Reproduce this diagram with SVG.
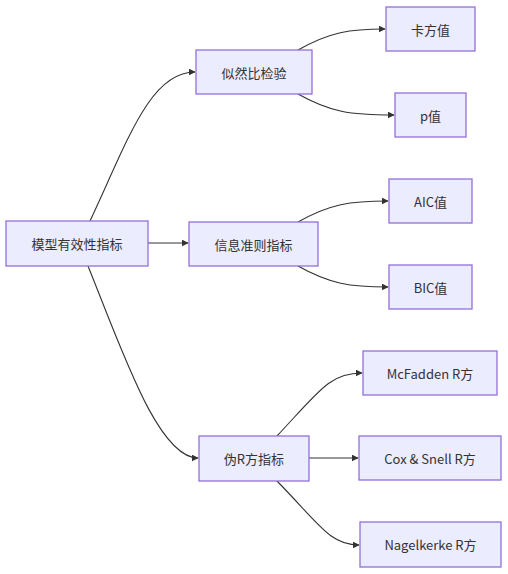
<svg xmlns="http://www.w3.org/2000/svg" width="508" height="574" viewBox="0 0 508 574">
<style>
.node rect{fill:#ECECFF;stroke:#9370DB;stroke-width:1.3}
.node text{font-family:"Noto Sans CJK SC","Liberation Sans",sans-serif;font-size:13px;fill:#333;text-anchor:middle;dominant-baseline:central}
.edges path{fill:none;stroke:#333;stroke-width:1.1;marker-end:url(#arrow)}
</style>
<defs>
<marker id="arrow" viewBox="0 0 10 10" refX="9" refY="5" markerWidth="7" markerHeight="7" orient="auto" markerUnits="userSpaceOnUse">
<path d="M0,0 L10,5 L0,10 z" fill="#333"/>
</marker>
</defs>
<rect width="508" height="574" fill="#fff"/>
<g class="edges">
<path d="M90,221 C128,140 150,72 195,72"/>
<path d="M148,243 L188,243"/>
<path d="M88,266 C122,350 158,458 198,458"/>
<path d="M298,50 C330,32 350,29 385,29"/>
<path d="M298,94 C330,112 350,115 394,115"/>
<path d="M298,222 C330,204 350,201 388,201"/>
<path d="M298,266 C330,284 350,287 388,287"/>
<path d="M277,436 C320,390 330,373 362,373"/>
<path d="M309,458 L358,458"/>
<path d="M277,481 C320,525 330,545 359,545"/>
</g>
<g id="root" class="node"><rect x="6" y="221" width="142" height="45"/><text x="77" y="243.5">模型有效性指标</text></g>
<g id="lr" class="node"><rect x="196" y="50" width="116" height="44"/><text x="254" y="72">似然比检验</text></g>
<g id="chi" class="node"><rect x="386" y="7" width="89" height="44"/><text x="430.5" y="29">卡方值</text></g>
<g id="p" class="node"><rect x="395" y="93" width="71" height="44"/><text x="430.5" y="115">p值</text></g>
<g id="ic" class="node"><rect x="189" y="222" width="129" height="44"/><text x="253.5" y="244">信息准则指标</text></g>
<g id="aic" class="node"><rect x="389" y="179" width="83" height="44"/><text x="430.5" y="201">AIC值</text></g>
<g id="bic" class="node"><rect x="389" y="265" width="83" height="44"/><text x="430.5" y="287">BIC值</text></g>
<g id="pr" class="node"><rect x="199" y="436" width="110" height="45"/><text x="254" y="458.5">伪R方指标</text></g>
<g id="mcf" class="node"><rect x="363" y="351" width="134" height="44"/><text x="430" y="373">McFadden R方</text></g>
<g id="cox" class="node"><rect x="359" y="436" width="142" height="44"/><text x="430" y="458">Cox &amp; Snell R方</text></g>
<g id="nag" class="node"><rect x="360" y="522" width="141" height="45"/><text x="430.5" y="544.5">Nagelkerke R方</text></g>
</svg>
